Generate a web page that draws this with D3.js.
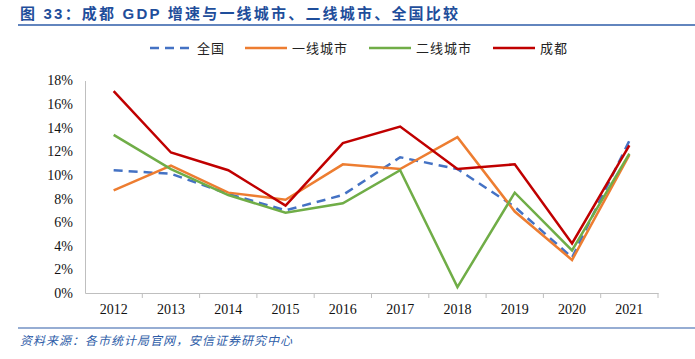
<!DOCTYPE html>
<html>
<head>
<meta charset="utf-8">
<script src="https://cdn.jsdelivr.net/npm/d3@7"></script>
<style>
  body { margin: 0; background: #fff; }
  svg { display: block; }
</style>
</head>
<body>
<svg width="695" height="359"></svg>
<script>
// years on the x axis
var years = ['2012', '2013', '2014', '2015', '2016', '2017', '2018', '2019', '2020', '2021'];
// growth rates in %
var national = [10.4, 10.1, 8.4, 7.0, 8.3, 11.5, 10.5, 7.3, 3.0, 12.9];
var tier1 = [8.7, 10.8, 8.5, 7.9, 10.9, 10.5, 13.2, 6.9, 2.8, 11.7];
var tier2 = [13.4, 10.5, 8.3, 6.8, 7.6, 10.4, 0.5, 8.5, 3.6, 11.8];
var chengdu = [17.1, 11.9, 10.4, 7.4, 12.7, 14.1, 10.5, 10.9, 4.2, 12.5];
var yTicks = [0, 2, 4, 6, 8, 10, 12, 14, 16, 18];

var series = [
    { name: '全国', values: national, color: '#4472C4', dash: '9,6' },
    { name: '一线城市', values: tier1, color: '#ED7D31', dash: null },
    { name: '二线城市', values: tier2, color: '#70AD47', dash: null },
    { name: '成都', values: chengdu, color: '#C00000', dash: null }
];

var svg = d3.select('svg');
var L = 85, R = 658, T = 80.5, B = 293;

var x = d3.scaleBand().domain(years).range([L, R]);
var y = d3.scaleLinear().domain([0, 18]).range([B, T]);

var cjk = '"Noto Sans CJK SC", sans-serif';
var serif = '"Liberation Serif", "Times New Roman", serif';

// title
svg.append('text')
    .attr('x', 20).attr('y', 19)
    .style('font-family', 'Arial, "Noto Sans CJK SC", sans-serif')
    .style('font-size', '15px')
    .style('font-weight', 'bold')
    .style('letter-spacing', '2.2px')
    .style('fill', '#1F4E9B')
    .text('图 33：成都 GDP 增速与一线城市、二线城市、全国比较');

svg.append('line')
    .attr('x1', 18).attr('x2', 695).attr('y1', 25).attr('y2', 25)
    .style('stroke', '#2E5DA8').style('stroke-width', 1.5);

// legend
var legendX = [150, 245, 369, 493];
var lg = svg.append('g').selectAll('g')
    .data(series).enter().append('g')
    .attr('transform', function (d, i) { return 'translate(' + legendX[i] + ',48)'; });
lg.append('line')
    .attr('x1', 0).attr('x2', 42).attr('y1', 0).attr('y2', 0)
    .style('stroke', function (d) { return d.color; })
    .style('stroke-width', 2.5)
    .style('stroke-dasharray', function (d) { return d.dash; });
lg.append('text')
    .attr('x', 47).attr('y', 5)
    .style('font-family', cjk)
    .style('font-size', '13px')
    .style('letter-spacing', '1px')
    .style('fill', '#222')
    .text(function (d) { return d.name; });

// y axis
var yAxis = d3.axisLeft(y)
    .tickValues(yTicks)
    .tickSize(0)
    .tickPadding(12)
    .tickFormat(function (d) { return d + '%'; });
var gy = svg.append('g')
    .attr('transform', 'translate(' + L + ',0)')
    .call(yAxis);
gy.select('.domain').style('stroke', '#BFBFBF');
gy.selectAll('text')
    .style('font-family', serif)
    .style('font-size', '14px')
    .style('fill', '#111');

// x axis
var xAxis = d3.axisBottom(x).tickSize(0).tickPadding(11);
var gx = svg.append('g')
    .attr('transform', 'translate(0,' + B + ')')
    .call(xAxis);
gx.select('.domain').style('stroke', '#BFBFBF').style('stroke-width', 1.2);
gx.selectAll('text')
    .style('font-family', serif)
    .style('font-size', '14px')
    .style('fill', '#111');
gx.selectAll('.sep')
    .data(years.slice(1).concat(['end'])).enter()
    .append('line')
    .attr('class', 'sep')
    .attr('x1', function (d, i) { return L + x.step() * (i + 1); })
    .attr('x2', function (d, i) { return L + x.step() * (i + 1); })
    .attr('y1', 0).attr('y2', 5)
    .style('stroke', '#BFBFBF');

// lines
var line = d3.line()
    .x(function (d, i) { return x(years[i]) + x.bandwidth() / 2; })
    .y(function (d) { return y(d); });

svg.append('g').selectAll('path')
    .data(series).enter().append('path')
    .attr('d', function (d) { return line(d.values); })
    .style('fill', 'none')
    .style('stroke', function (d) { return d.color; })
    .style('stroke-width', 2.5)
    .style('stroke-dasharray', function (d) { return d.dash; });

// footer
svg.append('line')
    .attr('x1', 18).attr('x2', 695).attr('y1', 328).attr('y2', 328)
    .style('stroke', '#2E5DA8').style('stroke-width', 1.2);
svg.append('text')
    .attr('x', 20).attr('y', 345)
    .style('font-family', cjk)
    .style('font-size', '12px')
    .style('font-style', 'italic')
    .style('letter-spacing', '1px')
    .style('fill', '#2E5DA8')
    .text('资料来源：各市统计局官网，安信证券研究中心');
</script>
</body>
</html>
